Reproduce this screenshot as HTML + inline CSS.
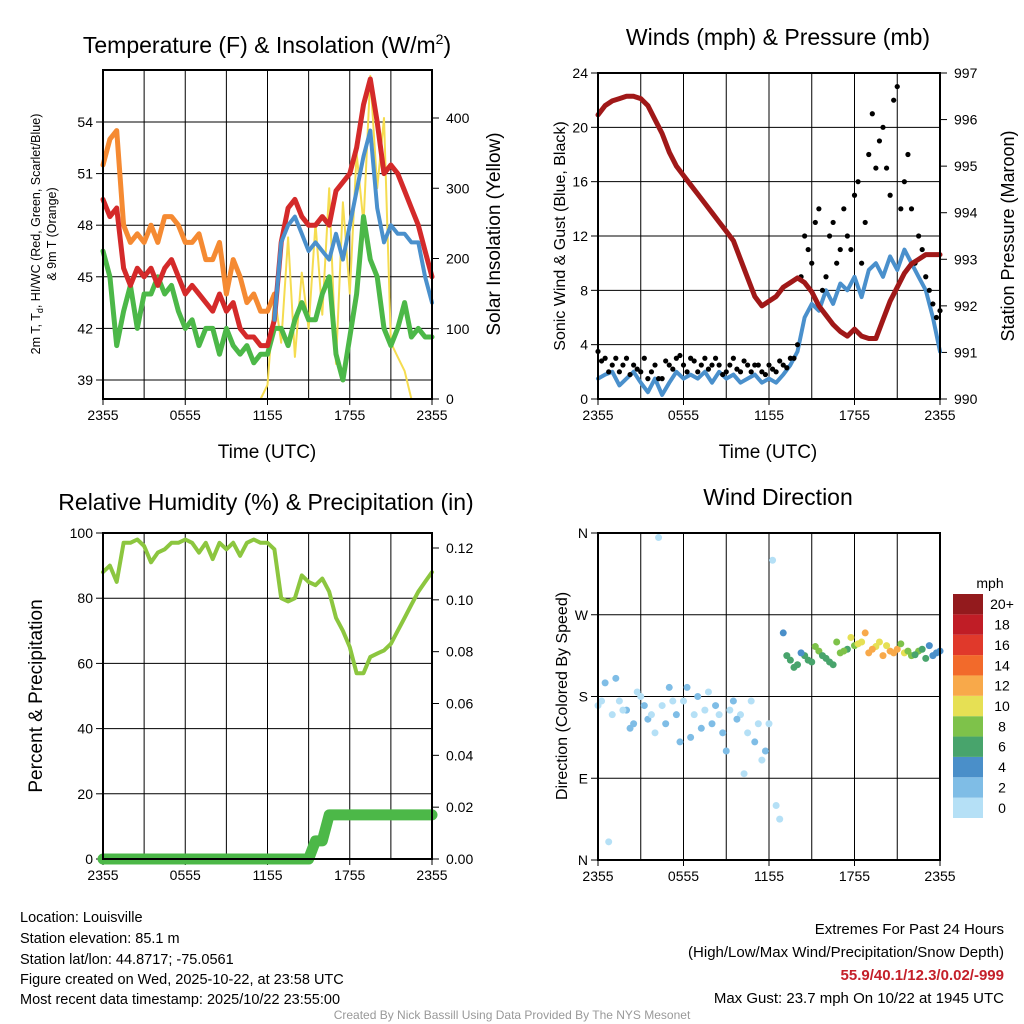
<!DOCTYPE html>
<html><head><meta charset="utf-8"><style>
body{margin:0;background:#fff;}
svg{display:block;font-family:"Liberation Sans",sans-serif;}
</style></head><body>
<svg id="c" width="1024" height="1024" viewBox="0 0 1024 1024">
<text x="267" y="53" font-size="23" text-anchor="middle">Temperature (F) &amp; Insolation (W/m<tspan dy="-9" font-size="14">2</tspan><tspan dy="9">)</tspan></text>
<text x="778" y="45" font-size="23" text-anchor="middle">Winds (mph) &amp; Pressure (mb)</text>
<text x="266" y="510" font-size="23" text-anchor="middle">Relative Humidity (%) &amp; Precipitation (in)</text>
<text x="778" y="505" font-size="23" text-anchor="middle">Wind Direction</text>
<text x="267" y="458" font-size="19" text-anchor="middle">Time (UTC)</text>
<text x="768" y="458" font-size="19" text-anchor="middle">Time (UTC)</text>
<text transform="translate(40,234) rotate(-90)" font-size="12.5" text-anchor="middle">2m T, T<tspan font-size="9" dy="3">d</tspan><tspan dy="-3">, HI/WC (Red, Green, Scarlet/Blue)</tspan></text>
<text transform="translate(56,234) rotate(-90)" font-size="12.5" text-anchor="middle">&amp; 9m T (Orange)</text>
<text transform="translate(500,234) rotate(-90)" font-size="19" text-anchor="middle">Solar Insolation (Yellow)</text>
<text transform="translate(565,236) rotate(-90)" font-size="16" text-anchor="middle">Sonic Wind &amp; Gust (Blue, Black)</text>
<text transform="translate(1014,236) rotate(-90)" font-size="18" text-anchor="middle">Station Pressure (Maroon)</text>
<text transform="translate(42,696) rotate(-90)" font-size="19" text-anchor="middle">Percent &amp; Precipitation</text>
<text transform="translate(567,696) rotate(-90)" font-size="16" text-anchor="middle">Direction (Colored By Speed)</text>
<text x="990" y="588" font-size="14" text-anchor="middle">mph</text>
<g font-size="14.5">
<text x="20" y="922">Location: Louisville</text>
<text x="20" y="943">Station elevation: 85.1 m</text>
<text x="20" y="964">Station lat/lon: 44.8717; -75.0561</text>
<text x="20" y="984">Figure created on Wed, 2025-10-22, at 23:58 UTC</text>
<text x="20" y="1004">Most recent data timestamp: 2025/10/22 23:55:00</text>
</g>
<g font-size="15" text-anchor="end">
<text x="1004" y="934">Extremes For Past 24 Hours</text>
<text x="1004" y="957">(High/Low/Max Wind/Precipitation/Snow Depth)</text>
<text x="1004" y="980" fill="#c4202a" font-weight="bold">55.9/40.1/12.3/0.02/-999</text>
<text x="1004" y="1003">Max Gust: 23.7 mph On 10/22 at 1945 UTC</text>
</g>
<text x="512" y="1019" font-size="12" fill="#999" text-anchor="middle">Created By Nick Bassill Using Data Provided By The NYS Mesonet</text>
</svg>
<script>
const timeTicks=["2355","0555","1155","1755","2355"];
const tOrange=[51.5,53,53.5,48,47,47.5,47,48,47,48.5,48.5,48,47,47,47.5,46,46,47,44,46,45,43.5,44,43,43,44];
const tRed=[49.5,48.5,49,45.5,44.5,45.5,45,45.5,44.5,45.5,46,45,44,44.5,44,43.5,43,44,43,43.5,42,41.5,41.5,41,41,42.5,47,49,49.5,48.5,48,48,48.5,48,50,50.5,51,52.5,55,56.5,54,51,51.5,51,50,49,48,46.5,45];
const tBlue=[42.5,47,48,48.5,47.5,46.5,47,46.5,46,47.5,46,48,50,52,53.5,49,47,48,47.5,47.5,47,47,45,43.5];
const tGreen=[46.5,45,41,43,44.5,42,44,44,45,44,44.5,43,42,42.5,41,42,42,40.5,42,41,40.5,41,40,40.5,40.5,42,42,41,42.5,43.5,42.5,42.5,44,45,40.5,39,41.5,44,48.5,46,45,42,41,42,43.5,41.5,42,41.5,41.5];
const insol=[0,0,0,0,0,0,0,0,0,0,0,0,0,0,0,0,0,0,0,0,0,0,0,0,20,150,80,230,60,180,100,250,120,300,50,280,150,350,250,460,300,400,80,60,40,0,0,0,0];
const pres=[996.1,996.3,996.4,996.45,996.5,996.5,996.45,996.3,996.0,995.7,995.3,995.0,994.8,994.6,994.4,994.2,994.0,993.8,993.6,993.4,993.0,992.6,992.2,992.0,992.1,992.2,992.4,992.5,992.6,992.5,992.3,992.0,991.8,991.6,991.45,991.35,991.5,991.35,991.3,991.3,991.7,992.1,992.4,992.7,992.9,993.0,993.1,993.1,993.1];
const wind=[1.5,1.8,2,1,1.5,2,1.2,0.5,1.5,0.3,1.2,2,1.5,1.8,1.5,2,1.2,2,1.5,1.8,1.2,1.5,1.8,1.2,1.5,1.2,1.8,2.5,3.5,6,7,6.5,8,7,8.5,8,9,7.5,9.5,10,9,10.5,9.5,11,10,9,8,6,3.5];
const gust=[3.5,3,2.5,2,3,2.5,2,1.5,2.5,1.5,2.5,3,2.5,3,2,3,2.5,2.5,2,3,2,2.5,2.5,2,2.5,2,2.5,3,4,12,10,14,9,13,11,12,15,10,18,17,20,15,23,16,14,12,9,7,6.5];
const gustHalf=[2.8,2,3,2.5,1.8,2.2,3,2,1.5,2.8,2.2,3.2,2,2.8,2.5,2.2,3,1.8,2.5,2.2,2.8,2,2.5,1.8,2.2,2.8,2.3,3,9,11,13,8,12,10,14,11,16,13,21,19,17,22,14,18,10,11,8,6];
const rh=[88,90,85,97,97,98,96,91,94,95,97,97,98,97,94,97,92,97,95,97,93,97,98,97,97,95,80,79,80,87,85,84,86,82,74,70,65,57,57,62,63,64,66,70,74,78,82,85,88];
const precip=[0,0,0,0,0,0,0,0,0,0,0,0,0,0,0,0,0,0,0,0,0,0,0,0,0,0,0,0,0,0,0,0.007,0.007,0.017,0.017,0.017,0.017,0.017,0.017,0.017,0.017,0.017,0.017,0.017,0.017,0.017,0.017,0.017,0.017];
const wdir=[170,195,160,175,165,150,180,155,140,170,190,160,175,135,180,165,150,160,120,175,160,140,130,110,150,60,250,220,215,225,218,230,222,215,228,232,236,240,228,235,225,230,232,228,225,230,222,225,230];
const wspd=[1,2,1.5,1,2,3,1,2,1,1,2,3,1,2,3,1,2,1,3,2,1,1,2,1,0.5,0.5,5,6,7,7,6,8,6,7,8,7,9,10,12,11,12,13,12,10,9,8,6,5,4];
const wdirHalf=[175,20,200,165,145,185,170,160,355,150,175,130,190,160,145,185,170,140,165,155,95,175,150,120,330,45,225,212,228,220,235,225,218,240,230,245,238,250,232,240,236,228,238,230,226,232,236,228];
const wspdHalf=[1,1,2,1,3,1,2,1,0.5,2,1,3,2,1,2,1,3,2,1,2,1,0.5,1,2,1,1,6,7,5,6,8,7,6,9,8,10,11,13,12,10,11,12,9,8,7,6,5,4];
const cbLabels=["0","2","4","6","8","10","12","14","16","18","20+"];
const cbColors=["#b5e0f6","#7fbde6","#4a8fc9","#48a46c","#7ec24a","#e6e054","#f8a94a","#f26a2b","#e0392b","#c01d26","#931a1d"];
const dirLabels=["N","E","S","W","N"];
const svg=document.getElementById('c');const NS="http://www.w3.org/2000/svg";
function mk(t,a){const e=document.createElementNS(NS,t);for(const k in a)e.setAttribute(k,a[k]);svg.appendChild(e);return e;}
function lin(d0,d1,r0,r1){return v=>r0+(v-d0)*(r1-r0)/(d1-d0);}
function frame(x0,x1,y0,y1,name){
  for(let h=0;h<=8;h++){const x=x0+h*(x1-x0)/8;const g=mk('line',{x1:x,x2:x,y1:y0,y2:y1,stroke:'#000','stroke-width':1});
  
  }
  timeTicks.forEach((t,k)=>{const x=x0+k*(x1-x0)/4;const e=mk('text',{x:x,y:y1+21,'font-size':14,'text-anchor':'middle'});e.textContent=t;
  
  
  mk('line',{x1:x,x2:x,y1:y1,y2:y1+6,stroke:'#000'});});
}
function hgrid(x0,x1,y,name){const g=mk('line',{x1:x0,x2:x1,y1:y,y2:y,stroke:'#000','stroke-width':1});

}
function box(x0,x1,y0,y1,name){const r=mk('rect',{x:x0,y:y0,width:x1-x0,height:y1-y0,fill:'none',stroke:'#000','stroke-width':2});

}
function ytick(x,y,txt,side,name){const e=mk('text',{x:side<0?x-10:x+14,y:y+5,'font-size':14,'text-anchor':side<0?'end':'start'});e.textContent=txt;


mk('line',{x1:x,x2:x+side*7,y1:y,y2:y,stroke:'#000'});}
function line(arr,xf,yf,off,color,w,name){const pts=arr.map((v,i)=>xf(i+off).toFixed(1)+','+yf(v).toFixed(1)).join(' ');
const p=mk('polyline',{points:pts,fill:'none',stroke:color,'stroke-width':w,'stroke-linejoin':'round','stroke-linecap':'round'});

return p;}
// Panel 1
{const X0=103,X1=432,Y0=70,Y1=399;const xf=lin(0,48,X0,X1);const yT=lin(39,54,380,122);const yI=lin(0,400,399,118);
frame(X0,X1,Y0,Y1,'temp');
[39,42,45,48,51,54].forEach(v=>{hgrid(X0,X1,yT(v),'temp');ytick(X0,yT(v),String(v),-1,'temp-y-tick');});
[0,100,200,300,400].forEach(v=>ytick(X1,yI(v),String(v),1,'insol-y-tick'));
line(insol,xf,yI,0,'#f5dc50',2,'insolation-line');
line(tOrange,xf,yT,0,'#f58a32',5,'temp-9m-line');
line(tGreen,xf,yT,0,'#4cb848',5,'dewpoint-line');
line(tRed,xf,yT,0,'#d42a2a',5,'temp-2m-line');
line(tBlue,xf,yT,25,'#4a90cc',4,'windchill-line');
box(X0,X1,Y0,Y1,'temp');}
// Panel 2
{const X0=598,X1=940,Y0=73,Y1=399;const xf=lin(0,48,X0,X1);const yW=lin(0,24,Y1,Y0);const yP=lin(990,997,Y1,Y0);
frame(X0,X1,Y0,Y1,'wind');
[0,4,8,12,16,20,24].forEach(v=>{if(v>0&&v<24)hgrid(X0,X1,yW(v),'wind');ytick(X0,yW(v),String(v),-1,'wind-y-tick');});
[990,991,992,993,994,995,996,997].forEach(v=>ytick(X1,yP(v),String(v),1,'pressure-y-tick'));
line(wind,xf,yW,0,'#4a90cc',4,'wind-line');
gust.forEach((v,i)=>{const c=mk('circle',{cx:xf(i),cy:yW(v),r:2.6,fill:'#000'});

});
gustHalf.forEach((v,i)=>{const c=mk('circle',{cx:xf(i+0.5),cy:yW(v),r:2.6,fill:'#000'});

});
line(pres,xf,yP,0,'#a01818',5,'pressure-line');
box(X0,X1,Y0,Y1,'wind');}
// Panel 3
{const X0=103,X1=432,Y0=533,Y1=859;const xf=lin(0,48,X0,X1);const yR=lin(0,100,Y1,Y0);const yQ=lin(0,0.12,Y1,548);
frame(X0,X1,Y0,Y1,'rh');
[0,20,40,60,80,100].forEach(v=>{if(v>0&&v<100)hgrid(X0,X1,yR(v),'rh');ytick(X0,yR(v),String(v),-1,'rh-y-tick');});
[0,0.02,0.04,0.06,0.08,0.10,0.12].forEach(v=>ytick(X1,yQ(v),v.toFixed(2),1,'precip-y-tick'));
line(rh,xf,yR,0,'#8cc63f',4,'rh-line');
line(precip,xf,yQ,0,'#4cb848',11,'precip-line');
box(X0,X1,Y0,Y1,'rh');}
// Panel 4
{const X0=598,X1=940,Y0=533,Y1=860;const xf=lin(0,48,X0,X1);const yD=lin(0,360,Y1,Y0);
frame(X0,X1,Y0,Y1,'wdir');
dirLabels.forEach((t,k)=>{const y=yD(k*90);if(k>0&&k<4)hgrid(X0,X1,y,'wdir');ytick(X0,y,t,-1,'wdir-y-tick');});
wdir.forEach((v,i)=>{const b=Math.min(10,Math.floor(wspd[i]/2));const c=mk('circle',{cx:xf(i),cy:yD(v),r:3.5,fill:cbColors[b]});

});
wdirHalf.forEach((v,i)=>{const b=Math.min(10,Math.floor(wspdHalf[i]/2));const c=mk('circle',{cx:xf(i+0.5),cy:yD(v),r:3.5,fill:cbColors[b]});

});
box(X0,X1,Y0,Y1,'wdir');
const bh=(818-594)/11;
cbColors.forEach((col,k)=>{const y=818-(k+1)*bh;const r=mk('rect',{x:953,y:y,width:30,height:bh,fill:col});


const t=mk('text',{x:1002,y:y+bh/2+5,'font-size':14,'text-anchor':'middle'});t.textContent=cbLabels[k];

});}
</script>
</body></html>
